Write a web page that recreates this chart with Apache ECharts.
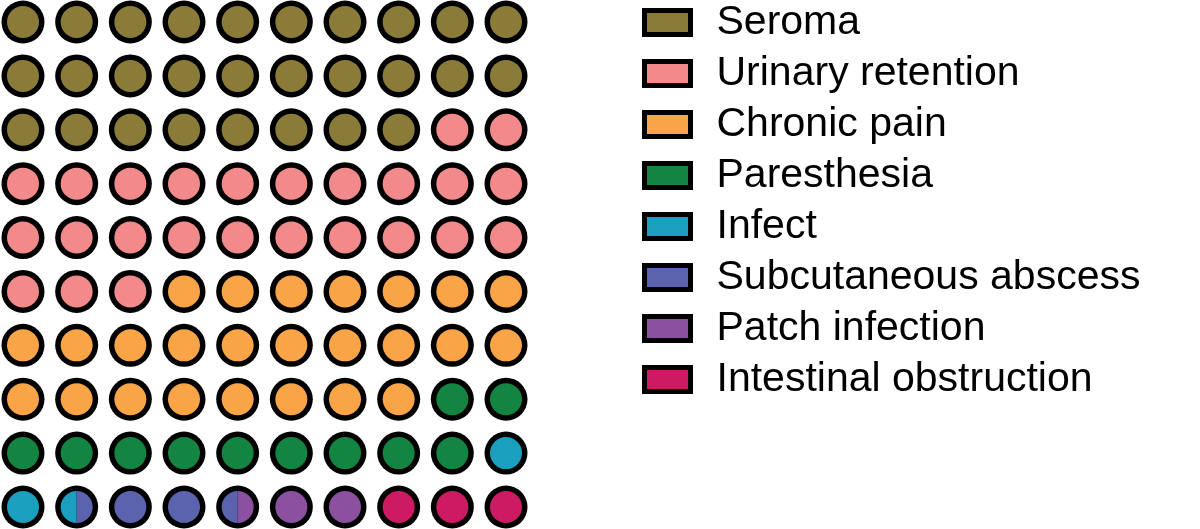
<!DOCTYPE html>
<html>
<head>
<meta charset="utf-8">
<title>Complications waffle</title>
<script src="https://cdn.jsdelivr.net/npm/echarts@6/dist/echarts.min.js"></script>
<style>
  html, body { margin: 0; padding: 0; background: #fff; }
  #main { width: 1200px; height: 529px; }
</style>
</head>
<body>
<div id="main"></div>
<script>
  // categories and how many of the 100 dots each one fills (halves allowed)
  var categories = ['Seroma', 'Urinary retention', 'Chronic pain', 'Paresthesia',
    'Infect', 'Subcutaneous abscess', 'Patch infection', 'Intestinal obstruction'];
  var counts = [28, 25, 25, 11, 2.5, 3, 2.5, 3];
  var colors = ['#8a7c38', '#f2898b', '#f9a447', '#138441',
    '#1a9fbf', '#5b63ae', '#8c50a0', '#cd1a63'];

  var COLS = 10;

  // walk through the grid in half-dot steps; part 0 = whole, 1 = left half, 2 = right half
  function buildCells() {
    var pos = 0;
    var out = [];
    for (var s = 0; s < counts.length; s++) {
      var cells = [];
      var remaining = counts[s];
      while (remaining > 1e-9) {
        var cell = Math.floor(pos + 1e-9);
        var offset = pos - cell;
        var take = Math.min(remaining, 1 - offset);
        var part = 0;
        if (take < 1 - 1e-9) part = offset < 1e-9 ? 1 : 2;
        cells.push([cell % COLS, Math.floor(cell / COLS), part]);
        pos += take;
        remaining -= take;
      }
      out.push(cells);
    }
    return out;
  }
  var cellData = buildCells();

  var R_OUT = 21.5, R_IN = 16;

  function renderItem(params, api) {
    var p = api.coord([api.value(0), api.value(1)]);
    var part = api.value(2);
    var color = api.visual('color');
    var children = [];
    // right halves are drawn by a later series, so the black ring is already there
    if (part !== 2) {
      children.push({
        type: 'circle',
        shape: { cx: p[0], cy: p[1], r: R_OUT },
        style: { fill: '#000' }
      });
    }
    if (part === 0) {
      children.push({
        type: 'circle',
        shape: { cx: p[0], cy: p[1], r: R_IN },
        style: { fill: color }
      });
    } else {
      var a0 = part === 1 ? Math.PI / 2 : -Math.PI / 2;
      children.push({
        type: 'sector',
        shape: { cx: p[0], cy: p[1], r: R_IN, r0: 0, startAngle: a0, endAngle: a0 + Math.PI, clockwise: true },
        style: { fill: color }
      });
    }
    return { type: 'group', children: children };
  }

  var series = [];
  for (var i = 0; i < categories.length; i++) {
    series.push({
      name: categories[i],
      type: 'custom',
      renderItem: renderItem,
      itemStyle: { color: colors[i] },
      encode: { x: 0, y: 1 },
      data: cellData[i]
    });
  }

  var chart = echarts.init(document.getElementById('main'));
  chart.setOption({
    animation: false,
    backgroundColor: '#fff',
    grid: { left: 23, top: 22, width: 483, height: 485 },
    xAxis: { type: 'value', min: 0, max: 9, show: false },
    yAxis: { type: 'value', min: 0, max: 9, inverse: true, show: false },
    legend: {
      orient: 'vertical',
      left: 637,
      top: -3,
      icon: 'rect',
      itemWidth: 46,
      itemHeight: 24,
      itemGap: 10,
      selectedMode: false,
      data: categories,
      itemStyle: { borderColor: '#000', borderWidth: 5 },
      textStyle: {
        fontFamily: 'Liberation Sans',
        fontSize: 41,
        lineHeight: 40,
        color: '#000',
        padding: [0, 0, 0, 21]
      }
    },
    series: series
  });
</script>
</body>
</html>
